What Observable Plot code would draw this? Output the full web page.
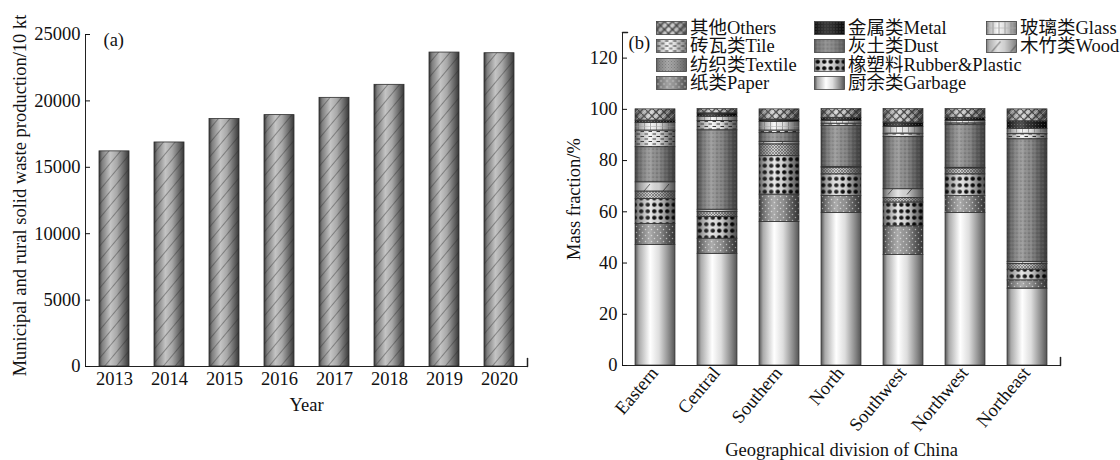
<!DOCTYPE html>
<html>
<head>
<meta charset="utf-8">
<script src="https://cdn.jsdelivr.net/npm/d3@7"></script>
<script src="https://cdn.jsdelivr.net/npm/@observablehq/plot@0.6"></script>
<style>
  body { margin: 0; background: #fff; }
  #wrap { position: relative; width: 1120px; height: 460px; overflow: hidden;
          font-family: "Liberation Serif", "Noto Sans CJK SC", serif; color: #111; }
  #panelA { position: absolute; left: 0; top: 0; }
  #panelB { position: absolute; left: 560px; top: 0; }
  #legend { position: absolute; left: 656px; top: 18.5px; display: grid;
            grid-auto-flow: column; grid-template-rows: repeat(4, 18.5px);
            grid-template-columns: 158px 172px auto; font-size: 18.5px; }
  .item { display: flex; align-items: center; white-space: nowrap; line-height: 18.5px; }
  .item svg { margin-right: 3px; flex: none; }
</style>
</head>
<body>
<svg id="shared" width="0" height="0" style="position:absolute"><defs id="defs"></defs></svg>
<div id="wrap">
  <div id="panelA"></div>
  <div id="panelB"></div>
  <div id="legend"></div>
</div>
<script>
// (a) yearly municipal and rural solid waste production, 10 kt
const years = ["2013", "2014", "2015", "2016", "2017", "2018", "2019", "2020"];
const production = [16200, 16870, 18630, 18930, 20230, 21210, 23640, 23590];
const yTicksA = [0, 5000, 10000, 15000, 20000, 25000];

// (b) composition by geographical division, mass fraction %
const regions = ["Eastern", "Central", "Southern", "North", "Southwest", "Northwest", "Northeast"];
const garbage       = [47.0, 43.6, 56.0, 59.6, 43.2, 59.6, 30.0];
const paper         = [8.2, 5.9, 10.7, 6.5, 11.1, 6.5, 3.2];
const rubberPlastic = [9.8, 8.4, 15.0, 8.5, 9.3, 8.5, 4.2];
const textile       = [2.9, 2.0, 4.6, 2.6, 1.8, 2.3, 2.2];
const wood          = [3.6, 0.9, 1.0, 0.3, 3.4, 0.3, 0.8];
const dust          = [13.7, 31.0, 3.5, 16.0, 20.4, 16.8, 47.9];
const tile          = [6.5, 3.6, 0.9, 0.9, 1.3, 0.5, 2.0];
const glass         = [3.0, 1.7, 3.4, 1.0, 2.6, 0.9, 2.1];
const metal         = [0.9, 1.3, 0.9, 1.3, 1.7, 1.3, 2.9];
const others        = [4.4, 1.7, 4.0, 3.4, 5.3, 3.4, 4.7];
const yTicksB = [0, 20, 40, 60, 80, 100, 120];

// stacking order, bottom to top
const categoryKeys = ["garbage", "paper", "rubber", "textile", "wood", "dust", "tile", "glass", "metal", "others"];
const categoryLabels = ["厨余类Garbage", "纸类Paper", "橡塑料Rubber&Plastic", "纺织类Textile", "木竹类Wood",
                        "灰土类Dust", "砖瓦类Tile", "玻璃类Glass", "金属类Metal", "其他Others"];
const categoryValues = [garbage, paper, rubberPlastic, textile, wood, dust, tile, glass, metal, others];
const legendOrder = ["others", "tile", "textile", "paper", "metal", "dust", "rubber", "garbage", "glass", "wood"];

// ---- fills: cylinder-like shading plus a texture per material ----
function cylinder(id, edge, hi) {
  const m = d3.interpolateRgb(edge, hi);
  const stops = [[0, edge], [0.1, m(0.5)], [0.38, hi], [0.6, m(0.8)], [0.86, m(0.3)], [1, edge]];
  return `<linearGradient id="${id}" x1="0" x2="1" y1="0" y2="0">` +
    stops.map(([o, c]) => `<stop offset="${o}" stop-color="${c}"/>`).join("") + `</linearGradient>`;
}
const baseTones = {
  garbage: ["#545454", "#ffffff"], paper: ["#4e4e4e", "#a2a2a2"], rubber: ["#7a7a7a", "#e6e6e6"],
  textile: ["#666666", "#cdcdcd"], wood: ["#7e7e7e", "#e2e2e2"], dust: ["#5a5a5a", "#939393"],
  tile: ["#7a7a7a", "#f6f6f6"], glass: ["#7a7a7a", "#f8f8f8"], metal: ["#060606", "#383838"],
  others: ["#666666", "#d2d2d2"]
};
const textures = {
  paper: `<pattern id="p-paper" patternUnits="userSpaceOnUse" width="6" height="6"><circle cx="1.5" cy="1.5" r="0.75" fill="#d6d6d6"/><circle cx="4.5" cy="4.5" r="0.75" fill="#d6d6d6"/></pattern>`,
  rubber: `<pattern id="p-rubber" patternUnits="userSpaceOnUse" width="6.5" height="6.5"><circle cx="3.25" cy="3.25" r="2.2" fill="#0c0c0c"/></pattern>`,
  textile: `<pattern id="p-textile" patternUnits="userSpaceOnUse" width="3" height="3"><path d="M0,0L3,3M3,0L0,3" stroke="#565656" stroke-width="0.6"/></pattern>`,
  wood: `<pattern id="p-wood" patternUnits="userSpaceOnUse" width="19" height="14"><line x1="5" y1="12.5" x2="14" y2="2" stroke="#333" stroke-width="0.8"/></pattern>`,
  dust: `<pattern id="p-dust" patternUnits="userSpaceOnUse" width="4" height="4"><circle cx="1" cy="1" r="0.6" fill="#4a4a4a"/><circle cx="3" cy="3" r="0.5" fill="#a9a9a9"/></pattern>`,
  tile: `<pattern id="p-tile" patternUnits="userSpaceOnUse" width="8" height="5"><rect x="0.5" y="1" width="3.5" height="1" fill="#333"/><rect x="4.5" y="3.5" width="3.5" height="1" fill="#333"/></pattern>`,
  glass: `<pattern id="p-glass" patternUnits="userSpaceOnUse" width="6" height="6"><path d="M0.5,0V6" stroke="#8a8a8a" stroke-width="0.8"/><path d="M0,0.5H6" stroke="#b0b0b0" stroke-width="0.6"/></pattern>`,
  metal: `<pattern id="p-metal" patternUnits="userSpaceOnUse" width="3" height="3"><circle cx="1.5" cy="1.5" r="0.55" fill="#6a6a6a"/></pattern>`,
  others: `<pattern id="p-others" patternUnits="userSpaceOnUse" width="8" height="8"><path d="M0,0L8,8M8,0L0,8" stroke="#474747" stroke-width="1.5"/><path d="M-1,5L5,-1M3,9L9,3" stroke="#eeeeee" stroke-width="0.5"/></pattern>`
};
document.getElementById("defs").innerHTML =
  cylinder("g-yearbar", "#363636", "#c4c4c4") +
  `<pattern id="p-yearbar" patternUnits="userSpaceOnUse" width="9" height="9" patternTransform="rotate(40)"><line x1="0" y1="0" x2="0" y2="9" stroke="#2a2a2a" stroke-width="0.8"/></pattern>` +
  `<linearGradient id="g-shade" x1="0" x2="1" y1="0" y2="0"><stop offset="0" stop-color="#000" stop-opacity="0.3"/><stop offset="0.38" stop-color="#fff" stop-opacity="0.12"/><stop offset="0.6" stop-color="#000" stop-opacity="0"/><stop offset="1" stop-color="#000" stop-opacity="0.35"/></linearGradient>` +
  categoryKeys.map(k => cylinder(`g-${k}`, ...baseTones[k])).join("") +
  Object.values(textures).join("");

const font = "'Liberation Serif', 'Noto Sans CJK SC', serif";
const fs = 18.5;
const style = {fontFamily: font, fontSize: `${fs}px`, color: "#111", background: "transparent", overflow: "visible"};
// short perpendicular stub drawn at an axis end
const stub = {draw(context, l) { context.moveTo(0, 0); context.lineTo(0, -l); }};
const label = (text, options) => Plot.text([text], {fontSize: fs, textAnchor: "middle", lineAnchor: "middle", ...options});

// ---- (a) ----
const yearRows = years.map((year, i) => ({year, value: production[i]}));
const plotA = Plot.plot({
  width: 545, height: 460, marginLeft: 85, marginRight: 18, marginTop: 34, marginBottom: 94,
  style,
  x: {domain: years, paddingInner: 0.46, paddingOuter: 0.23, axis: null},
  y: {domain: [0, 25000], axis: null},
  marks: [
    Plot.barY(yearRows, {x: "year", y: "value", fill: "url(#g-yearbar)"}),
    Plot.barY(yearRows, {x: "year", y: "value", fill: "url(#p-yearbar)", stroke: "#2e2e2e", strokeWidth: 0.8}),
    Plot.frame({anchor: "left", stroke: "#222"}),
    Plot.frame({anchor: "bottom", stroke: "#222"}),
    Plot.axisY({ticks: yTicksA, tickSize: -5, tickPadding: 10, label: null, fontSize: fs, tickFormat: d => String(d)}),
    Plot.axisX({tickSize: 0, tickPadding: 5, label: null, fontSize: fs}),
    Plot.vector([0], {frameAnchor: "bottom-right", rotate: 0, length: 8, anchor: "start", shape: stub, stroke: "#222"}),
    label("(a)", {frameAnchor: "top-left", textAnchor: "start", dx: 18, dy: 6}),
    label("Municipal and rural solid waste production/10 kt", {frameAnchor: "left", rotate: -90, dx: -65, dy: -5}),
    label("Year", {frameAnchor: "bottom", dy: 39})
  ]
});
document.getElementById("panelA").append(plotA);

// ---- (b) ----
const rows = regions.flatMap((region, i) =>
  categoryKeys.map((key, j) => ({region, key, value: categoryValues[j][i]})));
const stacked = fill => Plot.stackY({x: "region", y: "value", z: "key", fill});
const plotB = Plot.plot({
  width: 560, height: 460, marginLeft: 62, marginRight: 60, marginTop: 32, marginBottom: 95,
  style,
  x: {domain: regions, paddingInner: 0.35, paddingOuter: 0.175, axis: null},
  y: {domain: [0, 130], axis: null},
  color: {type: "identity"},
  marks: [
    Plot.barY(rows, stacked(d => `url(#g-${d.key})`)),
    Plot.barY(rows, stacked(d => d.key === "garbage" ? "none" : `url(#p-${d.key})`)),
    Plot.barY(rows, {...stacked(d => d.key === "garbage" ? "none" : "url(#g-shade)"), stroke: "#333", strokeWidth: 0.7}),
    Plot.frame({anchor: "left", stroke: "#222"}),
    Plot.frame({anchor: "bottom", stroke: "#222"}),
    Plot.axisY({ticks: yTicksB, tickSize: -5, tickPadding: 10, label: null, fontSize: fs}),
    Plot.axisX({tickSize: 0, tickPadding: 4, tickRotate: -50, label: null, fontSize: fs, dx: -1}),
    Plot.vector([0], {frameAnchor: "bottom-right", rotate: 0, length: 8, anchor: "start", shape: stub, stroke: "#222"}),
    Plot.vector([0], {frameAnchor: "top-left", rotate: 90, length: 5, anchor: "start", shape: stub, stroke: "#222"}),
    label("(b)", {frameAnchor: "top-left", textAnchor: "start", dx: 6, dy: 11}),
    label("Mass fraction/%", {frameAnchor: "left", rotate: -90, dx: -48}),
    label("Geographical division of China", {frameAnchor: "bottom", dy: 85})
  ]
});
document.getElementById("panelB").append(plotB);

// ---- legend for (b) ----
const legend = document.getElementById("legend");
for (const key of legendOrder) {
  const text = categoryLabels[categoryKeys.indexOf(key)];
  const item = document.createElement("div");
  item.className = "item";
  const texture = key === "garbage" ? "" : `<rect width="30" height="13" fill="url(#p-${key})"/>`;
  item.innerHTML = `<svg width="31" height="14"><g transform="translate(0.5,0.5)"><rect width="30" height="13" fill="url(#g-${key})"/>${texture}<rect width="30" height="13" fill="none" stroke="#444" stroke-width="0.8"/></g></svg><span>${text.replace("&", "&amp;")}</span>`;
  legend.append(item);
}
</script>
</body>
</html>
